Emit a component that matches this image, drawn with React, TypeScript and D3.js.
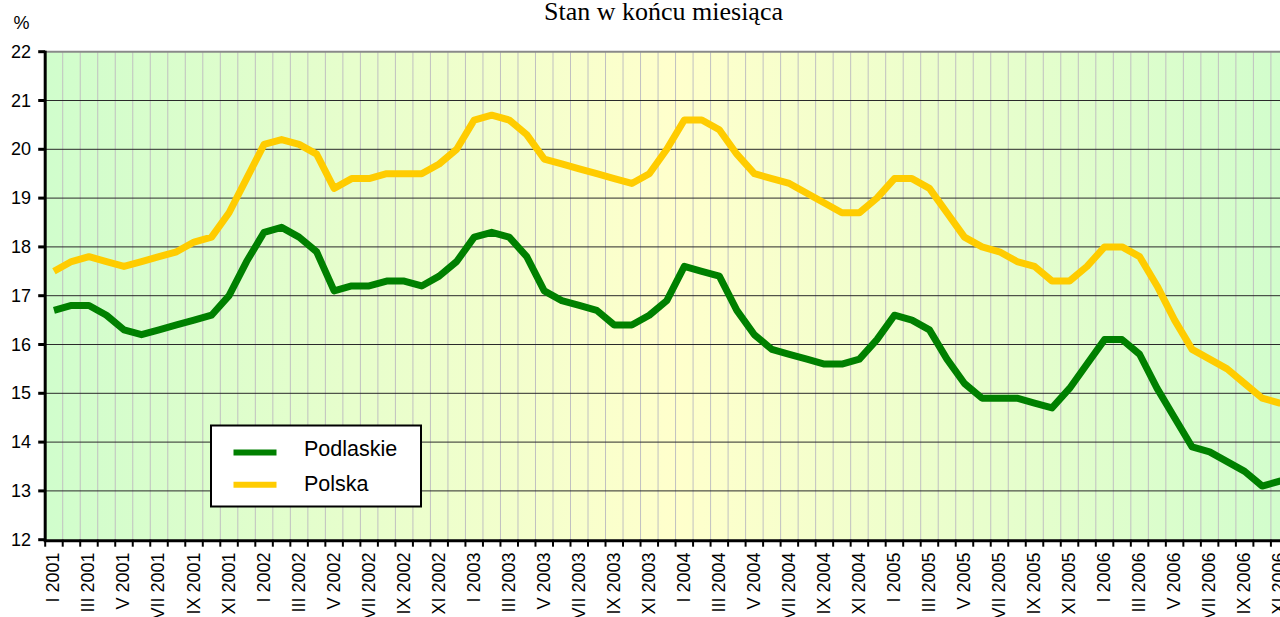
import React from "react";
import * as d3 from "d3";

const romans = ["I", "II", "III", "IV", "V", "VI", "VII", "VIII", "IX", "X", "XI", "XII"];
const years = [2001, 2002, 2003, 2004, 2005, 2006];
const months: string[] = [];
years.forEach((yr) => romans.forEach((r) => months.push(`${r} ${yr}`)));

const podlaskie = [
  16.7, 16.8, 16.8, 16.6, 16.3, 16.2, 16.3, 16.4, 16.5, 16.6, 17.0, 17.7,
  18.3, 18.4, 18.2, 17.9, 17.1, 17.2, 17.2, 17.3, 17.3, 17.2, 17.4, 17.7,
  18.2, 18.3, 18.2, 17.8, 17.1, 16.9, 16.8, 16.7, 16.4, 16.4, 16.6, 16.9,
  17.6, 17.5, 17.4, 16.7, 16.2, 15.9, 15.8, 15.7, 15.6, 15.6, 15.7, 16.1,
  16.6, 16.5, 16.3, 15.7, 15.2, 14.9, 14.9, 14.9, 14.8, 14.7, 15.1, 15.6,
  16.1, 16.1, 15.8, 15.1, 14.5, 13.9, 13.8, 13.6, 13.4, 13.1, 13.2, 13.3,
];
const polska = [
  17.5, 17.7, 17.8, 17.7, 17.6, 17.7, 17.8, 17.9, 18.1, 18.2, 18.7, 19.4,
  20.1, 20.2, 20.1, 19.9, 19.2, 19.4, 19.4, 19.5, 19.5, 19.5, 19.7, 20.0,
  20.6, 20.7, 20.6, 20.3, 19.8, 19.7, 19.6, 19.5, 19.4, 19.3, 19.5, 20.0,
  20.6, 20.6, 20.4, 19.9, 19.5, 19.4, 19.3, 19.1, 18.9, 18.7, 18.7, 19.0,
  19.4, 19.4, 19.2, 18.7, 18.2, 18.0, 17.9, 17.7, 17.6, 17.3, 17.3, 17.6,
  18.0, 18.0, 17.8, 17.2, 16.5, 15.9, 15.7, 15.5, 15.2, 14.9, 14.8, 14.8,
];
const yTicks = [12, 13, 14, 15, 16, 17, 18, 19, 20, 21, 22];
const seriesNames = ["Podlaskie", "Polska"];
const seriesColors = ["#008000", "#FFCC00"];

const W = 1280;
const H = 617;
const left = 45.2;
const band = 17.51;
const top = 51.7;
const bottom = 539.7;

export default function App() {
  const x = d3.scaleBand<string>().domain(months).range([left, left + band * months.length]).padding(0);
  const y = d3.scaleLinear().domain([12, 22]).range([bottom, top]);
  const cx = (m: string) => (x(m) as number) + x.bandwidth() / 2;
  const line = d3
    .line<number>()
    .x((_, i) => cx(months[i]))
    .y((v) => y(v));
  const right = left + band * months.length;
  const sans = "Arial, 'Liberation Sans', sans-serif";
  const legLineY = [452.5, 484.8];
  const legTextY = [455.7, 490.7];

  return (
    <div style={{ position: "fixed", left: 0, top: 0 }}>
      <svg width={W} height={H} style={{ display: "block", background: "#fff" }}>
        <defs>
          <linearGradient id="bg" x1={left} x2={right} y1={0} y2={0} gradientUnits="userSpaceOnUse">
            <stop offset="0" stopColor="#d0fdcc" />
            <stop offset="0.5" stopColor="#ffffcc" />
            <stop offset="1" stopColor="#d0fdcc" />
          </linearGradient>
        </defs>
        <text x={663.5} y={19.5} textAnchor="middle" fontFamily="'Liberation Serif', 'Times New Roman', serif" fontSize={26}>
          Stan w końcu miesiąca
        </text>
        <text x={21.5} y={29} textAnchor="middle" fontFamily={sans} fontSize={18}>
          %
        </text>
        <rect x={left} y={top} width={right - left} height={bottom - top} fill="url(#bg)" />
        {months.map((m, i) =>
          i === 0 ? null : (
            <line key={"vg" + m} x1={x(m)} x2={x(m)} y1={top} y2={bottom} stroke="#c0c0c0" strokeWidth={1} />
          )
        )}
        {yTicks.map((t) =>
          t === 12 ? null : (
            <line
              key={"hg" + t}
              x1={left}
              x2={right}
              y1={y(t)}
              y2={y(t)}
              stroke={t === 22 ? "#8a8a8a" : "#2a2a2a"}
              strokeWidth={t === 22 ? 2 : 1}
            />
          )
        )}
        {[podlaskie, polska].map((s, k) => (
          <path
            key={seriesNames[k]}
            d={line(s) as string}
            fill="none"
            stroke={seriesColors[k]}
            strokeWidth={7}
            strokeLinejoin="round"
          />
        ))}
        {/* y axis */}
        <line x1={left} x2={left} y1={top - 1} y2={bottom + 1.5} stroke="#000" strokeWidth={3} />
        {yTicks.map((t) => (
          <g key={"yt" + t}>
            <line x1={left - 7} x2={left} y1={y(t)} y2={y(t)} stroke="#000" strokeWidth={3} />
            <text x={31} y={y(t)} dy="0.34em" textAnchor="end" fontFamily={sans} fontSize={18}>
              {t}
            </text>
          </g>
        ))}
        {/* x axis */}
        <line x1={left - 1.5} x2={right} y1={bottom + 1} y2={bottom + 1} stroke="#000" strokeWidth={3} />
        {months.map((m) => (
          <line
            key={"xt" + m}
            x1={x(m) as number}
            x2={x(m) as number}
            y1={bottom}
            y2={bottom + 7}
            stroke="#000"
            strokeWidth={2}
          />
        ))}
        <line x1={right} x2={right} y1={bottom} y2={bottom + 7} stroke="#000" strokeWidth={2} />
        {months.map((m, i) =>
          i % 2 === 0 ? (
            <text
              key={"xl" + m}
              transform={`translate(${cx(m) - 1},${552.5}) rotate(-90)`}
              dy="0.36em"
              textAnchor="end"
              fontFamily={sans}
              fontSize={18}
            >
              {m}
            </text>
          ) : null
        )}
        {/* legend */}
        <rect x={211} y={425.5} width={210} height={81} fill="#fff" stroke="#000" strokeWidth={2} />
        {seriesNames.map((n, k) => (
          <g key={"lg" + n}>
            <line x1={233.5} x2={276.5} y1={legLineY[k]} y2={legLineY[k]} stroke={seriesColors[k]} strokeWidth={6} />
            <text x={304} y={legTextY[k]} fontFamily={sans} fontSize={21.5}>
              {n}
            </text>
          </g>
        ))}
      </svg>
    </div>
  );
}
